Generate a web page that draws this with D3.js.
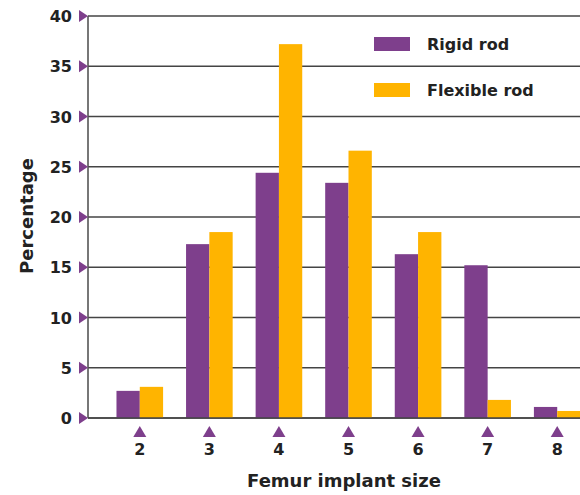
<!DOCTYPE html>
<html><head><meta charset="utf-8">
<script src="https://cdn.jsdelivr.net/npm/d3@7"></script>
<style>body{margin:0;background:#fff;} text{font-family:"DejaVu Sans", sans-serif;font-weight:700;fill:#222;}</style>
</head><body>
<svg id="c" width="580" height="495"></svg>
<script>
const categories = ["2","3","4","5","6","7","8"];
const rigid = [2.7, 17.3, 24.4, 23.4, 16.3, 15.2, 1.1];
const flexible = [3.1, 18.5, 37.2, 26.6, 18.5, 1.8, 0.7];
const yTicks = [0,5,10,15,20,25,30,35,40];
const seriesNames = ["Rigid rod","Flexible rod"];
const colors = ["#7e3f8c","#ffb400"];

const svg = d3.select("#c");
const y = d3.scaleLinear().domain([0,40]).range([418,16]);
const x = d3.scaleBand().domain(categories).range([105,592]).paddingInner(0.33).paddingOuter(0.165);
const xs = d3.scaleBand().domain([0,1]).range([0,x.bandwidth()]);

// gridlines
svg.append("g").selectAll("line").data(yTicks).join("line")
  .attr("x1",88).attr("x2",580).attr("y1",d=>y(d)).attr("y2",d=>y(d))
  .attr("stroke","#444").attr("stroke-width",1.4);

// bars
const data = categories.map((c,i)=>({c, v:[rigid[i], flexible[i]]}));
const g = svg.append("g").selectAll("g").data(data).join("g")
  .attr("transform",d=>`translate(${x(d.c)},0)`);
g.selectAll("rect").data(d=>d.v.map((v,k)=>({v,k}))).join("rect")
  .attr("x",d=>xs(d.k)).attr("width",xs.bandwidth())
  .attr("y",d=>y(d.v)).attr("height",d=>y(0)-y(d.v))
  .attr("fill",d=>colors[d.k]);

// axes lines
svg.append("line").attr("x1",88).attr("x2",88).attr("y1",y(40)).attr("y2",y(0)).attr("stroke","#555").attr("stroke-width",1.6);
svg.append("line").attr("x1",88).attr("x2",580).attr("y1",y(0)).attr("y2",y(0)).attr("stroke","#444").attr("stroke-width",1.6);

// y ticks triangles
svg.append("g").selectAll("path").data(yTicks).join("path")
  .attr("d",d=>`M79,${y(d)-6}L88,${y(d)}L79,${y(d)+6}Z`).attr("fill","#7e3f8c");
svg.append("g").selectAll("text").data(yTicks).join("text")
  .attr("x",72).attr("y",d=>y(d)+6).attr("text-anchor","end").attr("font-size",16).text(d=>d);

// x ticks triangles
svg.append("g").selectAll("path").data(categories).join("path")
  .attr("d",d=>{const cx=x(d)+x.bandwidth()/2;return `M${cx-6.5},437L${cx},426L${cx+6.5},437Z`;}).attr("fill","#7e3f8c");
svg.append("g").selectAll("text").data(categories).join("text")
  .attr("x",d=>x(d)+x.bandwidth()/2).attr("y",455).attr("text-anchor","middle").attr("font-size",16).text(d=>d);

// titles
svg.append("text").attr("x",344).attr("y",487).attr("text-anchor","middle").attr("font-size",18).text("Femur implant size");
svg.append("text").attr("transform","translate(33,216) rotate(-90)").attr("text-anchor","middle").attr("font-size",18).text("Percentage");

// legend
const lg = svg.append("g").selectAll("g").data(seriesNames).join("g")
  .attr("transform",(d,i)=>`translate(374,${37+i*46})`);
lg.append("rect").attr("width",36).attr("height",14).attr("fill",(d,i)=>colors[i]);
lg.append("text").attr("x",53).attr("y",13).attr("font-size",16).text(d=>d);
</script>
</body></html>
